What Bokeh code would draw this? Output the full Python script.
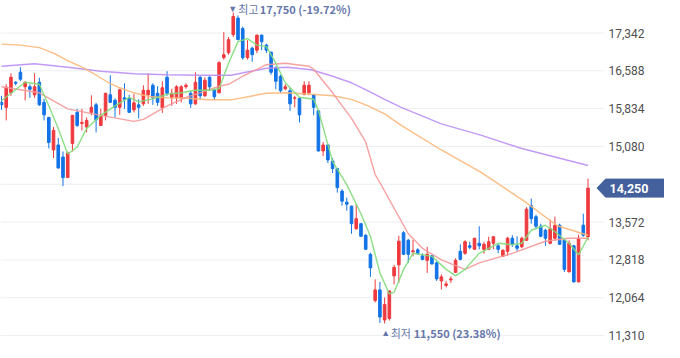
import numpy as np
from bokeh.plotting import figure
from bokeh.models import ColumnDataSource, Range1d, Label
from bokeh.core.properties import value
from bokeh.embed import file_html
from bokeh.resources import INLINE

# ---------------- data (daily OHLC, oldest -> newest) ----------------
opens = [15960,15860,16150,16360,16560,16270,16270,16110,16360,15960,
         15660,15010,15110,14870,14460,15140,15760,15540,15470,15760,
         15910,15500,15700,16110,16000,15860,16050,16040,15810,15910,
         15930,16110,16300,16140,15850,16460,16050,16050,16050,16270,
         16140,15930,16460,16090,16460,16210,16150,16850,16950,17310,
         17640,17430,16850,17040,17000,17300,17100,16960,16640,16480,
         16230,16190,16040,16040,16120,16150,16110,15790,14990,15110,
         14790,14640,14190,13970,13890,13440,13540,13310,12930,12010,
         12220,11620,11650,12500,12720,13360,13210,12980,13020,12900,
         12810,12900,12760,12400,12310,12420,12570,12990,12950,13100,
         13030,13150,13030,13030,13150,13100,12890,12990,13250,13100,
         13080,13210,13900,13680,13490,13410,13150,13250,13510,13210,
         12580,13100,12380,13510,13280]
highs = [16090,16320,16540,16380,16660,16380,16320,16540,16450,16030,
         15670,15470,15250,14980,14980,15710,15830,15830,15660,16100,
         15950,15830,16150,16500,16040,16230,16340,16110,16130,16020,
         16300,16540,16340,16280,16380,16580,16230,16300,16300,16340,
         16190,16560,16480,16460,16480,16230,16780,17360,17260,17750,
         17690,17470,17200,17070,17310,17310,17130,16970,16680,16510,
         16320,16250,16090,16050,16380,16380,16120,15810,15170,15120,
         14850,14650,14230,14060,13900,13930,13550,13330,12960,12430,
         12380,12070,12210,12720,13300,13390,13240,13220,13050,12950,
         13080,12920,12790,12530,12400,12490,12850,13130,13210,13180,
         13260,13490,13180,13280,13290,13130,13030,13280,13310,13290,
         13280,13870,14040,13720,13540,13440,13620,13680,13540,13240,
         13210,13120,13320,13740,14440]
lows = [15810,15600,16090,16300,16380,16000,16050,16050,15890,15600,
        15040,14850,14640,14290,14450,14980,15470,15400,15360,15700,
        15360,15490,15600,15950,15660,15710,15830,15750,15760,15640,
        15890,15930,15910,15890,15750,16090,15890,15930,15960,16230,
        15850,15910,16020,16070,16190,16000,16140,16810,16910,17260,
        17200,16810,16810,16770,16940,17000,16940,16510,16220,16150,
        16200,15790,15860,15560,16100,16100,15700,14980,14890,14750,
        14550,14160,13900,13800,13340,13420,13280,13020,12480,11970,
        11560,11550,11610,12330,12360,12920,12760,12890,12920,12810,
        12560,12720,12400,12230,12270,12360,12570,12810,12920,13030,
        13020,13030,12940,13020,13030,12950,12880,12900,13080,12990,
        13050,13200,13540,13440,13270,13100,13130,13210,13120,12580,
        12570,12370,12370,13280,13210]
closes = [15910,16260,16460,16340,16420,16360,16220,16270,15910,15710,
          15160,15400,14650,14460,14950,15700,15500,15560,15600,15860,
          15610,15680,16140,15960,15860,16210,16020,15760,15950,15860,
          16200,16200,16050,15960,16250,16140,16140,16270,16270,16300,
          15930,16360,16090,16400,16270,16070,16750,16910,17210,17670,
          17210,16850,17000,16910,17300,17170,17000,16560,16380,16190,
          16270,15930,16050,15710,16300,16300,15860,14990,15110,14810,
          14640,14260,13990,13930,13540,13640,13290,13030,12660,12220,
          11680,11930,12200,12670,13190,12930,12930,13000,12950,12830,
          12930,12740,12440,12480,12340,12440,12810,12830,13180,13070,
          13250,13100,13130,13180,13280,13030,13010,13250,13130,13050,
          13250,13830,13640,13490,13290,13250,13440,13510,13130,12630,
          13150,12380,13250,13310,14250]

# moving averages (candle index, price)
ma5_idx = [0,5,8,10,12,14,16,18,21,24,27,29,32,35,38,41,44,46,48,50,
           52,54,56,58,60,63,66,67,70,73,76,78,80,82,83,85,87,91,94,96,
           98,101,105,108,110,112,115,117,120,122,124]
ma5_val = [15990,16360,16320,15890,15440,14930,15070,15440,15700,15890,
           16060,15970,16030,16120,16150,16200,16200,16230,16740,17170,
           17230,17100,17070,16740,16350,16060,16020,15800,14780,14320,
           13740,13290,12560,12140,12170,12630,12950,12890,12630,12500,
           12630,12950,13150,13120,13150,13410,13510,13380,13150,12920,13270]
ma20_idx = [0,4,8,14,21,28,30,35,39,42,46,48,51,56,60,65,66,70,74,77,
            79,80,86,89,93,98,101,108,115,120,124]
ma20_val = [16270,16210,16150,15830,15700,15580,15620,15890,16060,16150,
            16280,16320,16480,16710,16740,16680,16620,16150,15640,15170,
            14520,14360,13340,13050,12820,12630,12760,12950,13190,13250,13250]
ma60_idx = [0,4,8,11,14,17,19.5,22.5,25,28,31.5,35,39.5,43.5,48.5,56,60.5,
            65.5,70,74,77.5,81,84.5,93,101.5,110.5,117.5,124]
ma60_val = [17120,17100,17050,16940,16790,16660,16530,16360,16250,16150,
            16070,16050,16040,16010,16010,16140,16150,16120,16090,16020,
            15890,15730,15500,15010,14560,13990,13500,13310]
ma120_idx = [0,7,14,21,28,35,42,48.5,56,60.5,65.5,70,74,77.5,81,84.5,93,
             101.5,110,124]
ma120_val = [16680,16730,16660,16580,16530,16510,16500,16500,16640,16660,
             16610,16480,16350,16190,16020,15860,15530,15300,15040,14700]

y_ticks = [11310, 12064, 12818, 13572, 14326, 15080, 15834, 16588, 17342]

# ---------------- styles ----------------
RED = "#ee3a3f"
BLUE = "#1273e6"
C_MA5 = "#7fdc78"
C_MA20 = "#f59898"
C_MA60 = "#fbb778"
C_MA120 = "#bb8ff5"
NOTE = "#6677aa"
BADGE = "#44609d"
GRID = "#eceef3"
TICK_TXT = "#505050"

W, H = 664, 342
n = len(closes)
X0, X1 = -0.211, 140.17
Y0, Y1 = 11172, 17990

def sx(px):
    """screen pixel (from left) -> data x"""
    return X0 + px * (X1 - X0) / W

def py(px):
    """pixel height -> data units"""
    return px * (Y1 - Y0) / H

up = [c >= o for o, c in zip(opens, closes)]
src = ColumnDataSource(dict(
    x=list(range(n)), open=opens, close=closes, high=highs, low=lows,
    top=[max(o, c) for o, c in zip(opens, closes)],
    bottom=[min(o, c) for o, c in zip(opens, closes)],
    color=[RED if u else BLUE for u in up],
))

p = figure(width=W, height=H, output_backend="svg", toolbar_location=None,
           x_range=Range1d(X0, X1), y_range=Range1d(Y0, Y1),
           x_axis_location=None, y_axis_location=None,
           min_border=0)
p.outline_line_color = None
p.background_fill_color = "white"
p.border_fill_color = "white"
p.grid.visible = False

# horizontal grid (stops before the price scale)
grid_end = sx(603)
p.segment(x0=[X0] * len(y_ticks), x1=[grid_end] * len(y_ticks), y0=y_ticks, y1=y_ticks,
          line_color=GRID, line_width=1)

# candles
p.segment(x0="x", y0="low", x1="x", y1="high", line_color="color", line_width=1, source=src)
p.vbar(x="x", width=0.55, top="top", bottom="bottom", fill_color="color",
       line_color="color", line_width=1, source=src)

# moving averages
p.line(ma120_idx, ma120_val, line_color=C_MA120, line_width=1.4, line_alpha=0.9)
p.line(ma60_idx, ma60_val, line_color=C_MA60, line_width=1.4, line_alpha=0.9)
p.line(ma20_idx, ma20_val, line_color=C_MA20, line_width=1.4, line_alpha=0.9)
p.line(ma5_idx, ma5_val, line_color=C_MA5, line_width=1.4, line_alpha=0.9)

last = closes[-1]
hh = py(9)

# price scale labels (the one under the last-price badge is hidden)
vis_ticks = [t for t in y_ticks if abs(t - last) > hh * 1.3]
p.text(x=[sx(608)] * len(vis_ticks), y=vis_ticks, text=[f"{t:,}" for t in vis_ticks],
       text_align="left", text_baseline="middle", text_font=value("Roboto"),
       text_font_size="12px", text_color=TICK_TXT)

# last price badge
p.patch(x=[sx(596.5), sx(605), X1, X1, sx(605)],
        y=[last, last + hh, last + hh, last - hh, last - hh],
        fill_color=BADGE, line_color=BADGE)
p.text(x=[sx(609)], y=[last], text=[f"{last:,}"], text_align="left", text_baseline="middle",
       text_font=value("Roboto"), text_font_size="12.5px", text_font_style="bold",
       text_color="white")

# high / low notes
hi_idx = int(np.argmax(highs))
lo_idx = int(np.argmin(lows))
hi = highs[hi_idx]
lo = lows[lo_idx]
hi_txt = f"{hi:,} ({(last - hi) / hi * 100:.2f}%)"
lo_txt = f"{lo:,} ({(last - lo) / lo * 100:.2f}%)"

def note(xi, y, tri, word, num, tri_dx, word_dx, num_dx):
    p.add_layout(Label(x=xi, y=y, text=tri, text_align="center", text_baseline="middle",
                       x_offset=tri_dx, text_font="Roboto",
                       text_font_size="9px", text_color=NOTE))
    p.add_layout(Label(x=xi, y=y, text=word, text_align="left", text_baseline="middle",
                       x_offset=word_dx, text_font="Noto Sans CJK KR",
                       text_font_size="11px", text_color=NOTE))
    p.add_layout(Label(x=xi, y=y, text=num, text_align="left", text_baseline="middle",
                       x_offset=num_dx, text_font="Noto Sans CJK KR", text_font_style="bold",
                       text_font_size="11px", text_color=NOTE))

note(hi_idx, Y1 - py(8), "▼", "최고", hi_txt, -0.5, 5, 26.5)
note(lo_idx, Y1 - py(332.5), "▲", "최저", lo_txt, 1, 6, 29)

open("out.html", "w").write(file_html(p, INLINE))
